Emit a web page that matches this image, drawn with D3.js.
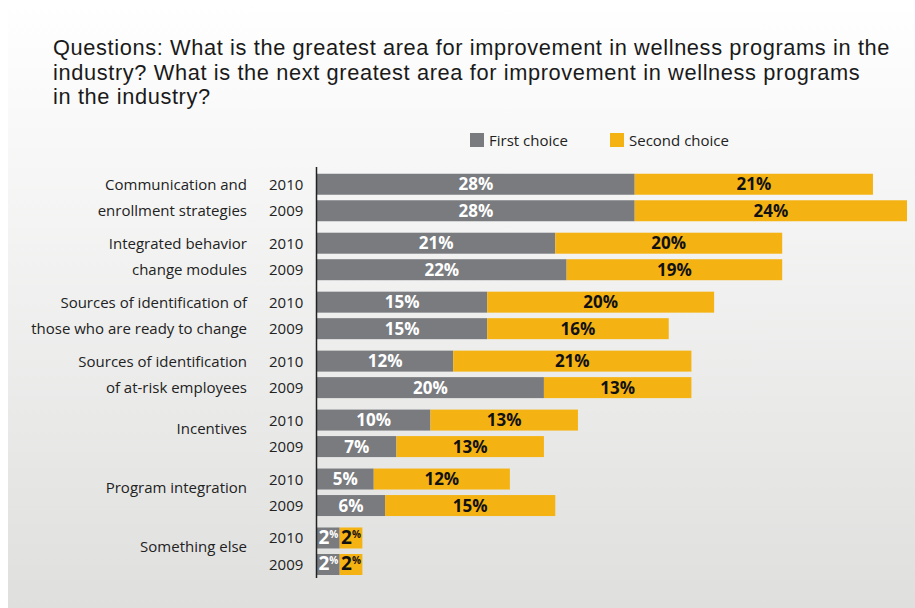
<!DOCTYPE html>
<html>
<head>
<meta charset="utf-8">
<script src="https://cdn.jsdelivr.net/npm/d3@7"></script>
<style>
  html, body { margin: 0; padding: 0; background: #ffffff; }
  svg { display: block; }
  text { font-family: "Open Sans", "Noto Sans", sans-serif; }
  .title { font-family: "Liberation Sans", Arial, sans-serif; letter-spacing: 0.62px; }
</style>
</head>
<body>
<svg id="chart" width="915" height="608"></svg>
<script>
// Survey responses: share of respondents naming each area (percent)
const categories = [
  "Communication and enrollment strategies",
  "Integrated behavior change modules",
  "Sources of identification of those who are ready to change",
  "Sources of identification of at-risk employees",
  "Incentives",
  "Program integration",
  "Something else"
];
const categoryLines = [
  ["Communication and", "enrollment strategies"],
  ["Integrated behavior", "change modules"],
  ["Sources of identification of", "those who are ready to change"],
  ["Sources of identification", "of at-risk employees"],
  ["Incentives"],
  ["Program integration"],
  ["Something else"]
];
const years = ["2010", "2009"];
const firstChoice2010  = [28, 21, 15, 12, 10, 5, 2];
const secondChoice2010 = [21, 20, 20, 21, 13, 12, 2];
const firstChoice2009  = [28, 22, 15, 20, 7, 6, 2];
const secondChoice2009 = [24, 19, 16, 13, 13, 15, 2];
const seriesNames = ["First choice", "Second choice"];
const titleLines = [
  "Questions: What is the greatest area for improvement in wellness programs in the",
  "industry? What is the next greatest area for improvement in wellness programs",
  "in the industry?"
];

const colors = { "First choice": "#797b7f", "Second choice": "#f5b313" };

// Flatten into one row per category/year
const rows = [];
categories.forEach((c, i) => {
  rows.push({ category: c, year: "2010", first: firstChoice2010[i], second: secondChoice2010[i] });
  rows.push({ category: c, year: "2009", first: firstChoice2009[i], second: secondChoice2009[i] });
});

const svg = d3.select("#chart");

// Background panel with soft vertical gradient
const defs = svg.append("defs");
const grad = defs.append("linearGradient").attr("id", "bg").attr("x1", 0).attr("y1", 0).attr("x2", 0).attr("y2", 1);
grad.append("stop").attr("offset", "0%").attr("stop-color", "#ffffff");
grad.append("stop").attr("offset", "100%").attr("stop-color", "#dfe0de");
svg.append("rect").attr("x", 8).attr("y", 0).attr("width", 907).attr("height", 608).attr("fill", "url(#bg)");

// Title
svg.append("g").selectAll("text").data(titleLines).join("text")
  .attr("class", "title")
  .attr("x", 53)
  .attr("y", (d, i) => 55 + i * 24.5)
  .attr("font-size", 21.8)
  .attr("fill", "#1a1a1a")
  .text(d => d);

// Scales
const x = d3.scaleLinear().domain([0, 52]).range([317, 907]);
const y = d3.scaleBand().domain(categories).range([168, 580.7]).paddingInner(0).paddingOuter(0);
const yInner = d3.scaleBand().domain(years).range([5.75, 53.25]).paddingInner(0.208).paddingOuter(0);

// Legend
const legend = svg.append("g");
const legendX = [470, 610];
seriesNames.forEach((s, i) => {
  legend.append("rect").attr("x", legendX[i]).attr("y", 133).attr("width", 14).attr("height", 14).attr("fill", colors[s]);
  legend.append("text").attr("x", legendX[i] + 19).attr("y", 146).attr("font-size", 15).attr("fill", "#222").text(s);
});

// Bars
const barG = svg.append("g");
const rowG = barG.selectAll("g.row").data(rows).join("g")
  .attr("class", "row")
  .attr("transform", d => `translate(0,${y(d.category) + yInner(d.year)})`);

const bh = yInner.bandwidth();

rowG.append("rect")
  .attr("x", x(0))
  .attr("y", 0)
  .attr("width", d => x(d.first) - x(0))
  .attr("height", bh)
  .attr("fill", colors["First choice"]);

rowG.append("rect")
  .attr("x", d => x(d.first))
  .attr("y", 0)
  .attr("width", d => x(d.first + d.second) - x(d.first))
  .attr("height", bh)
  .attr("fill", colors["Second choice"]);

// Value labels, centred in each segment
function addLabel(sel, start, val, fill) {
  const t = sel.append("text")
    .attr("x", d => (x(start(d)) + x(start(d) + val(d))) / 2)
    .attr("y", bh / 2 + 6)
    .attr("text-anchor", "middle")
    .attr("font-size", 17)
    .attr("font-weight", 700)
    .attr("fill", fill);
  t.each(function (d) {
    const v = val(d);
    const node = d3.select(this);
    if (v < 3) {
      // small segments: compact number with raised, reduced percent sign
      node.append("tspan").attr("font-size", 19).text(v);
      node.append("tspan").attr("font-size", 10).attr("dy", -6).text("%");
    } else {
      node.text(v + "%");
    }
  });
}
addLabel(rowG, d => 0, d => d.first, "#ffffff");
addLabel(rowG, d => d.first, d => d.second, "#111111");

// Vertical axis line
svg.append("line")
  .attr("x1", x(0) - 0.5).attr("x2", x(0) - 0.5)
  .attr("y1", 167).attr("y2", 578)
  .attr("stroke", "#222").attr("stroke-width", 1.5);

// Year labels
rowG.append("text")
  .attr("x", 269)
  .attr("y", bh / 2 + 5.5)
  .attr("font-size", 15)
  .attr("fill", "#222")
  .text(d => d.year);

// Category labels
const catG = svg.append("g").selectAll("g").data(categories).join("g");
catG.each(function (c, i) {
  const lines = categoryLines[i];
  const g = d3.select(this);
  if (lines.length === 2) {
    lines.forEach((ln, j) => {
      g.append("text")
        .attr("x", 247)
        .attr("y", y(c) + yInner(years[j]) + bh / 2 + 5.5)
        .attr("text-anchor", "end")
        .attr("font-size", 15)
        .attr("fill", "#222")
        .text(ln);
    });
  } else {
    g.append("text")
      .attr("x", 247)
      .attr("y", y(c) + y.bandwidth() / 2 + 0.5)
      .attr("text-anchor", "end")
      .attr("font-size", 15)
      .attr("fill", "#222")
      .text(lines[0]);
  }
});
</script>
</body>
</html>
